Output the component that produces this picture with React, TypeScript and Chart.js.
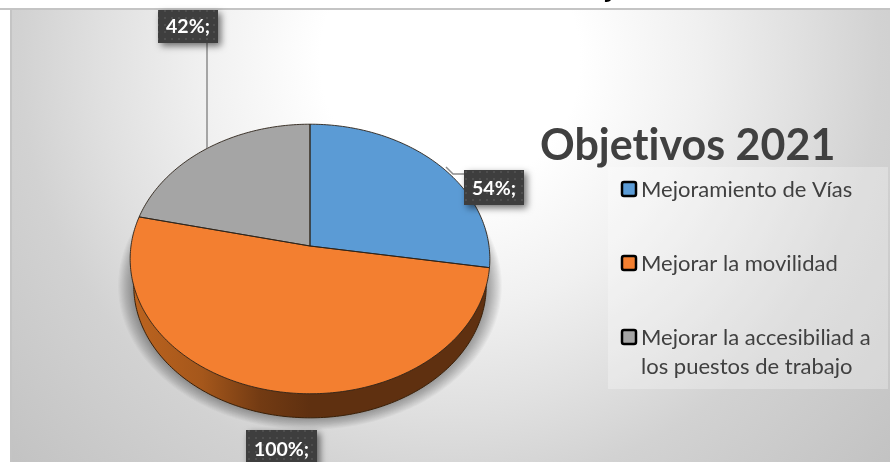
import React, { useEffect, useRef } from "react";
import { Chart, registerables } from "chart.js";

Chart.register(...registerables);

const categories = ["Mejoramiento de Vías", "Mejorar la movilidad", "Mejorar la accesibiliad a los puestos de trabajo"];
const legendLines = [["Mejoramiento de Vías"], ["Mejorar la movilidad"], ["Mejorar la accesibiliad a", "los puestos de trabajo"]];
const values = [54, 100, 42];
const sliceColors = ["#5b9bd5", "#f37f30", "#a5a5a5"];
const chartTitle = "Objetivos 2021";
const clippedHeading = "j";

const FONT = "Lato, 'Open Sans', sans-serif";
const TILT = 0.746;
const PERSPECTIVE = 0.0963;
const DEPTH = 27;

const project = (a: any, angle: number, rOuter: number) => {
  const ux = Math.cos(angle);
  const uy = Math.sin(angle);
  const w = 1 - PERSPECTIVE * uy;
  return { x: a.x + (rOuter * ux) / w, y: a.y + (rOuter * TILT * uy) / w };
};

const tracePie = (ctx: CanvasRenderingContext2D, arc: any, start: number, end: number, dy = 0, scale = 1, join = false) => {
  const steps = Math.max(4, Math.ceil((end - start) * 60));
  for (let i = 0; i <= steps; i++) {
    const p = project(arc, start + ((end - start) * i) / steps, arc.outerRadius * scale);
    if (i === 0 && !join) ctx.moveTo(p.x, p.y + dy);
    else ctx.lineTo(p.x, p.y + dy);
  }
};

let dots: HTMLCanvasElement | null = null;
const dotPattern = (ctx: CanvasRenderingContext2D) => {
  if (!dots) {
    dots = document.createElement("canvas");
    dots.width = 7;
    dots.height = 7;
    const d = dots.getContext("2d")!;
    d.fillStyle = "#3e3e3e";
    d.fillRect(0, 0, 7, 7);
    d.fillStyle = "#4e4e4e";
    d.fillRect(3, 3, 2, 2);
  }
  return ctx.createPattern(dots, "repeat")!;
};

const labelBoxes = [
  { x: 464, y: 170, w: 60, h: 35 },
  { x: 246, y: 430, w: 71, h: 40 },
  { x: 158, y: 10, w: 60, h: 33 },
];

const piePlugin = {
  id: "perspectivePie",
  beforeDraw(chart: any) {
    const { ctx } = chart;
    ctx.save();
    ctx.fillStyle = "#ffffff";
    ctx.fillRect(0, 0, 890, 462);
    const g = ctx.createRadialGradient(450, 60, 0, 450, 60, 600);
    g.addColorStop(0, "#ffffff");
    g.addColorStop(130 / 600, "#ffffff");
    g.addColorStop(250 / 600, "#f0f0f0");
    g.addColorStop(350 / 600, "#e0e0e0");
    g.addColorStop(430 / 600, "#d2d2d2");
    g.addColorStop(1, "#c2c2c2");
    ctx.fillStyle = g;
    ctx.fillRect(10, 9, 880, 453);
    ctx.fillStyle = "#c4c4c4";
    ctx.fillRect(0, 8, 890, 2);
    ctx.fillRect(10, 8, 2, 454);
    ctx.font = `bold 30px ${FONT}`;
    ctx.fillStyle = "#000000";
    ctx.textBaseline = "alphabetic";
    ctx.textAlign = "left";
    ctx.fillText(clippedHeading, 606, -3);
    ctx.restore();
  },
  beforeDatasetDraw(chart: any, args: any) {
    const { ctx } = chart;
    const arcs = chart.getDatasetMeta(args.index).data as any[];
    const first = arcs[0];
    ctx.save();

    // soft drop shadow: stacked, slightly growing translucent outlines
    for (let k = 14; k >= 1; k--) {
      ctx.fillStyle = "rgba(0,0,0,0.028)";
      ctx.beginPath();
      tracePie(ctx, first, 0, Math.PI * 2, DEPTH - 1, 0.98 + k * 0.0062);
      ctx.closePath();
      ctx.fill();
    }

    // extruded rim of the slices
    const rim = ctx.createLinearGradient(first.x - 180, 0, first.x + 180, 0);
    rim.addColorStop(0, "#bd641f");
    rim.addColorStop(0.2, "#a5571b");
    rim.addColorStop(0.36, "#733b13");
    rim.addColorStop(0.5, "#5f3010");
    rim.addColorStop(1, "#5f3010");
    ctx.fillStyle = rim;
    ctx.strokeStyle = "#3a2008";
    ctx.lineWidth = 1;
    ctx.beginPath();
    tracePie(ctx, first, 0, Math.PI * 2, DEPTH, 0.98);
    ctx.closePath();
    ctx.fill();
    ctx.stroke();

    // top face
    arcs.forEach((arc, i) => {
      ctx.beginPath();
      ctx.moveTo(arc.x, arc.y);
      tracePie(ctx, arc, arc.startAngle, arc.endAngle, 0, 1, true);
      ctx.closePath();
      ctx.fillStyle = sliceColors[i];
      ctx.fill();
    });
    arcs.forEach((arc) => {
      ctx.beginPath();
      ctx.moveTo(arc.x, arc.y);
      tracePie(ctx, arc, arc.startAngle, arc.endAngle, 0, 1, true);
      ctx.closePath();
      ctx.strokeStyle = "rgba(45,35,25,0.9)";
      ctx.lineWidth = 1;
      ctx.stroke();
    });
    ctx.restore();
    return false;
  },
  afterDatasetsDraw(chart: any) {
    const { ctx } = chart;
    const data = chart.data.datasets[0].data as number[];
    ctx.save();
    ctx.letterSpacing = "0.01px";

    // leader lines
    ctx.strokeStyle = "#8c8c8c";
    ctx.lineWidth = 1.5;
    ctx.beginPath();
    ctx.moveTo(207, 43);
    ctx.lineTo(207, 148);
    ctx.moveTo(446, 167);
    ctx.lineTo(453, 174);
    ctx.lineTo(464, 174);
    ctx.stroke();

    // data labels
    data.forEach((v, i) => {
      const b = labelBoxes[i];
      ctx.save();
      ctx.shadowColor = "rgba(0,0,0,0.55)";
      ctx.shadowBlur = 7;
      ctx.shadowOffsetX = 3;
      ctx.shadowOffsetY = 3;
      ctx.fillStyle = dotPattern(ctx);
      ctx.fillRect(b.x, b.y, b.w, b.h);
      ctx.restore();
      ctx.fillStyle = "#ffffff";
      ctx.font = `bold 19.5px ${FONT}`;
      ctx.textAlign = "center";
      ctx.textBaseline = "alphabetic";
      const base = i === 0 ? 195 : i === 1 ? 456 : 33;
      ctx.fillText(`${v}%;`, b.x + b.w / 2, base);
    });

    // title
    ctx.fillStyle = "#404040";
    ctx.font = `bold 43px ${FONT}`;
    ctx.textAlign = "left";
    ctx.fillText(chartTitle, 540, 160);

    // legend
    ctx.fillStyle = "rgba(255,255,255,0.28)";
    ctx.fillRect(608, 167, 280, 222);
    const rows = [197, 271, 345];
    chart.data.labels.forEach((_: string, i: number) => {
      const y = rows[i];
      ctx.fillStyle = sliceColors[i];
      ctx.strokeStyle = "#000000";
      ctx.lineWidth = 2.5;
      ctx.beginPath();
      ctx.roundRect(622, y - 15, 14, 14, 2);
      ctx.fill();
      ctx.stroke();
      ctx.fillStyle = "#404040";
      ctx.font = `22px ${FONT}`;
      legendLines[i].forEach((line, j) => ctx.fillText(line, 641, y + j * 29));
    });
    ctx.restore();
  },
};

export default function App() {
  const ref = useRef<HTMLCanvasElement>(null);
  useEffect(() => {
    const chart = new Chart(ref.current!, {
      type: "pie",
      data: {
        labels: categories,
        datasets: [{ data: values, backgroundColor: sliceColors, borderWidth: 0 }],
      },
      options: {
        responsive: false,
        animation: false,
        layout: { padding: { left: 131, right: 401, top: 67, bottom: 37 } },
        plugins: { legend: { display: false }, title: { display: false }, tooltip: { enabled: false } },
      },
      plugins: [piePlugin],
    } as any);
    return () => chart.destroy();
  }, []);
  return (
    <div style={{ position: "fixed", left: 0, top: 0, width: 890, height: 462, overflow: "hidden" }}>
      <canvas ref={ref} width={890} height={462} style={{ display: "block" }} />
    </div>
  );
}
